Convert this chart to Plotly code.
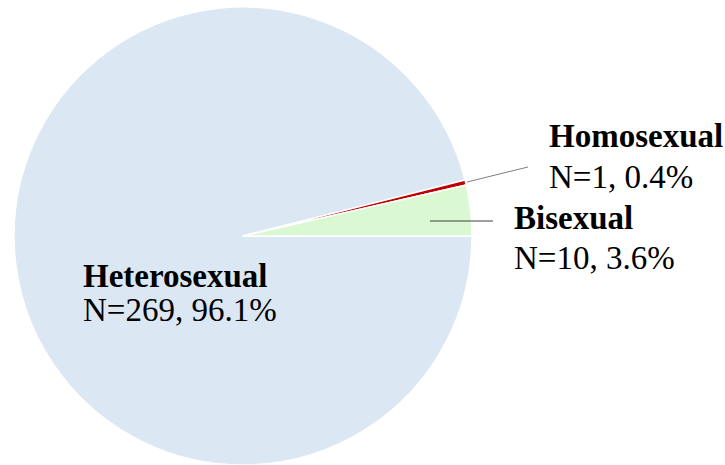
import plotly.graph_objects as go

labels = ["Heterosexual", "Homosexual", "Bisexual"]
counts = [269, 1, 10]
percents = ["96.1%", "0.4%", "3.6%"]
colors = ["#DCE7F4", "#C00000", "#DAF8D2"]

W, H = 725, 465
FONT = "Liberation Serif, Times New Roman, serif"

fig = go.Figure(go.Pie(
    labels=labels, values=counts, sort=False,
    direction="clockwise", rotation=90,
    marker=dict(colors=colors, line=dict(color="white", width=1.5)),
    textinfo="none", hoverinfo="label+value+percent",
    domain=dict(x=[13 / W, 473 / W], y=[0.0, 458 / H]),
    showlegend=False,
))

def px(x):
    return x / W

def py(y):
    return 1 - y / H

# label positions: (left x, baseline y) for name and value line
label_pos = {
    "Heterosexual": ((81, 286), (81, 320)),
    "Homosexual": ((547, 146), (547, 187)),
    "Bisexual": ((512, 228), (512, 268)),
}
annotations = []
for lab, n, p in zip(labels, counts, percents):
    (x1, b1), (x2, b2) = label_pos[lab]
    annotations.append(dict(x=px(x1), y=py(b1 - 10.5), xref="paper", yref="paper",
                            xanchor="left", yanchor="middle", showarrow=False,
                            text=f"<b>{lab}</b>", font=dict(family=FONT, size=33, color="black")))
    annotations.append(dict(x=px(x2), y=py(b2 - 10.5), xref="paper", yref="paper",
                            xanchor="left", yanchor="middle", showarrow=False,
                            text=f"N={n}, {p}", font=dict(family=FONT, size=33, color="black")))

shapes = [
    dict(type="line", xref="paper", yref="paper", x0=px(467), y0=py(182), x1=px(528), y1=py(167),
         line=dict(color="#7f7f7f", width=1)),
    dict(type="line", xref="paper", yref="paper", x0=px(430), y0=py(221), x1=px(493), y1=py(221),
         line=dict(color="#404040", width=1)),
]

fig.update_layout(
    width=W, height=H, margin=dict(l=0, r=0, t=0, b=0),
    paper_bgcolor="white", plot_bgcolor="white",
    annotations=annotations, shapes=shapes,
)
fig.write_html("out.html")
